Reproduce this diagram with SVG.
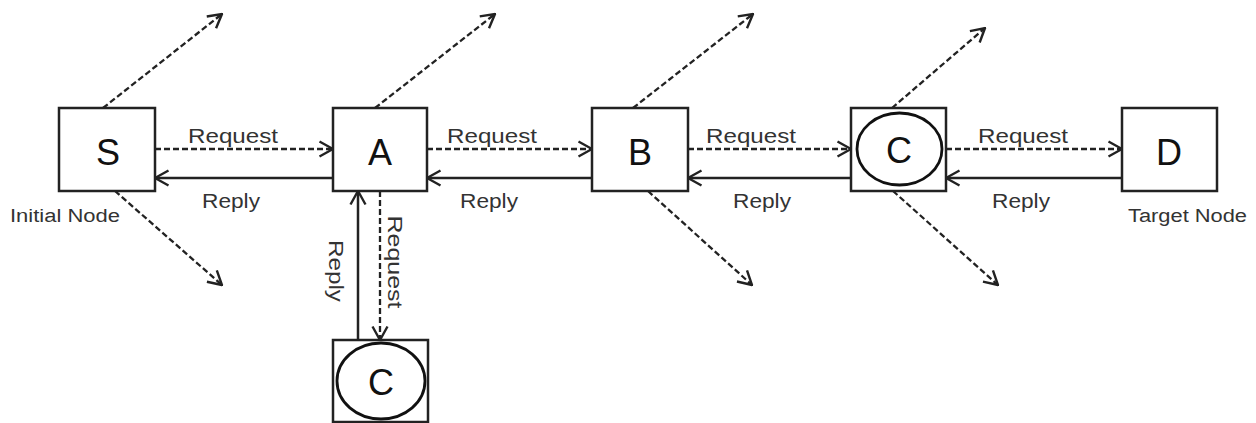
<svg xmlns="http://www.w3.org/2000/svg" width="1256" height="423" viewBox="0 0 1256 423">
<style>
.box{fill:#fff;stroke:#222;stroke-width:2.5}
.ell{fill:none;stroke:#111;stroke-width:2.8}
.nl{font-family:"Liberation Sans",Arial,sans-serif;font-size:36px;fill:#111;text-anchor:middle}
.lb{font-family:"Liberation Sans",Arial,sans-serif;font-size:21px;fill:#333;text-anchor:middle}
.sm{font-family:"Liberation Sans",Arial,sans-serif;font-size:18px;fill:#333}
.dash{fill:none;stroke:#222;stroke-width:2.3;stroke-dasharray:6 3;marker-end:url(#ah)}
.sol{fill:none;stroke:#222;stroke-width:2.5;marker-end:url(#ah)}
</style>
<defs>
<marker id="ah" viewBox="0 0 16 18" refX="15" refY="9" markerWidth="16" markerHeight="18" markerUnits="userSpaceOnUse" orient="auto">
<path d="M1.5,1.5 L15,9 L1.5,16.5" fill="none" stroke="#222" stroke-width="2.4"/>
</marker>
</defs>
<g id="connectors">
<path class="dash" d="M155,149 H333"/>
<path class="dash" d="M427,149 H592"/>
<path class="dash" d="M688,149 H851"/>
<path class="dash" d="M946,149 H1122"/>
<path class="sol" d="M333,178 H155"/>
<path class="sol" d="M592,178 H427"/>
<path class="sol" d="M851,178 H688"/>
<path class="sol" d="M1122,178 H946"/>
<path class="dash" d="M103,108 L222,14"/>
<path class="dash" d="M115,191 L222,285"/>
<path class="dash" d="M375,108 L495,14"/>
<path class="dash" d="M633,108 L753,14"/>
<path class="dash" d="M648,191 L752,285"/>
<path class="dash" d="M892,108 L985,28"/>
<path class="dash" d="M893,191 L998,285"/>
<path class="sol" d="M358,340 V191"/>
<path class="dash" d="M380,191 V340"/>
<text class="lb" x="233" y="143" textLength="90" lengthAdjust="spacingAndGlyphs">Request</text>
<text class="lb" x="492" y="143" textLength="90" lengthAdjust="spacingAndGlyphs">Request</text>
<text class="lb" x="751" y="143" textLength="90" lengthAdjust="spacingAndGlyphs">Request</text>
<text class="lb" x="1023" y="143" textLength="90" lengthAdjust="spacingAndGlyphs">Request</text>
<text class="lb" x="231" y="208" textLength="58" lengthAdjust="spacingAndGlyphs">Reply</text>
<text class="lb" x="489" y="208" textLength="58" lengthAdjust="spacingAndGlyphs">Reply</text>
<text class="lb" x="762" y="208" textLength="58" lengthAdjust="spacingAndGlyphs">Reply</text>
<text class="lb" x="1021" y="208" textLength="58" lengthAdjust="spacingAndGlyphs">Reply</text>
<text class="lb" transform="translate(329,271) rotate(90)" textLength="62" lengthAdjust="spacingAndGlyphs">Reply</text>
<text class="lb" transform="translate(388,262) rotate(90)" textLength="93" lengthAdjust="spacingAndGlyphs">Request</text>
</g>
<g id="node-S">
<rect class="box" x="59" y="108" width="96" height="83"/>
<text class="nl" x="108" y="165">S</text>
<text class="sm" x="10" y="222" textLength="110" lengthAdjust="spacingAndGlyphs">Initial Node</text>
</g>
<g id="node-A">
<rect class="box" x="333" y="108" width="94" height="83"/>
<text class="nl" x="380" y="165">A</text>
</g>
<g id="node-B">
<rect class="box" x="592" y="108" width="96" height="83"/>
<text class="nl" x="640" y="165">B</text>
</g>
<g id="node-C">
<rect class="box" x="851" y="108" width="95" height="83"/>
<ellipse class="ell" cx="899.5" cy="149" rx="42.5" ry="36"/>
<text class="nl" x="899" y="163">C</text>
</g>
<g id="node-D">
<rect class="box" x="1122" y="108" width="95" height="83"/>
<text class="nl" x="1169" y="165">D</text>
<text class="sm" x="1128" y="222" textLength="119" lengthAdjust="spacingAndGlyphs">Target Node</text>
</g>
<g id="node-C2">
<rect class="box" x="333" y="340" width="95" height="82"/>
<ellipse class="ell" cx="381" cy="381" rx="44" ry="38"/>
<text class="nl" x="381" y="395">C</text>
</g>
</svg>
